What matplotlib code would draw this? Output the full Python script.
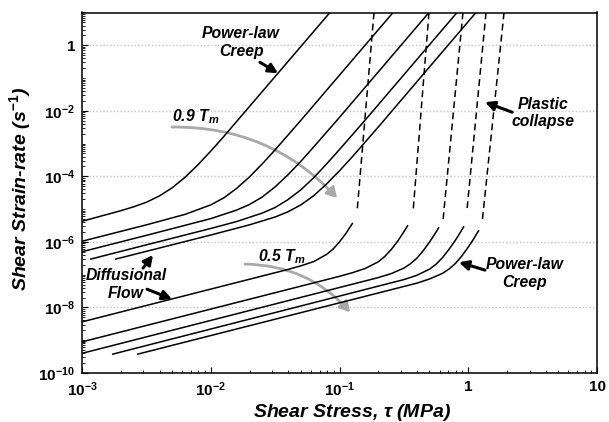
import numpy as np
import matplotlib
matplotlib.use("Agg")
from matplotlib import pyplot as plt
from matplotlib.patches import FancyArrowPatch
from matplotlib.ticker import FixedLocator, FixedFormatter, LogLocator, NullFormatter

plt.rcParams["font.family"] = ["Liberation Sans", "DejaVu Sans"]
plt.rcParams["mathtext.fontset"] = "custom"
plt.rcParams["mathtext.rm"] = "Liberation Sans:bold"
plt.rcParams["mathtext.it"] = "Liberation Sans:bold:italic"
plt.rcParams["mathtext.bf"] = "Liberation Sans:bold"

# digitised curves, log10 of shear stress (MPa) and log10 of strain-rate (1/s)
# 0.9 Tm family (diffusional flow -> power-law creep)
hot_log_tau = [
    [-3.0, -2.7, -2.6, -2.5, -2.4, -2.3, -2.2, -2.1, -2.0, -1.9, -1.8, -1.074],
    [-3.0, -2.5, -2.2, -2.0, -1.9, -1.8, -1.7, -1.6, -1.5, -1.4, -1.3, -0.584],
    [-3.0, -2.5, -2.0, -1.8, -1.7, -1.6, -1.5, -1.4, -1.3, -1.2, -1.1, -1.0, -0.305],
    [-2.938, -2.5, -2.0, -1.8, -1.6, -1.5, -1.4, -1.3, -1.2, -1.1, -1.0, -0.9, -0.8, -0.087],
    [-2.744, -2.0, -1.7, -1.5, -1.4, -1.3, -1.2, -1.1, -1.0, -0.9, -0.8, -0.7, 0.06],
]
hot_log_rate = [
    [-5.37, -5.05, -4.93, -4.79, -4.60, -4.35, -4.03, -3.65, -3.23, -2.79, -2.33, 1.0],
    [-5.98, -5.48, -5.16, -4.87, -4.66, -4.37, -4.02, -3.62, -3.19, -2.74, -2.29, 1.0],
    [-6.30, -5.80, -5.29, -5.03, -4.86, -4.63, -4.32, -3.95, -3.54, -3.10, -2.65, -2.20, 1.0],
    [-6.53, -6.09, -5.59, -5.38, -5.12, -4.95, -4.71, -4.41, -4.04, -3.62, -3.18, -2.73, -2.28, 1.0],
    [-6.53, -5.79, -5.48, -5.24, -5.08, -4.87, -4.59, -4.23, -3.83, -3.40, -2.95, -2.50, 1.0],
]

# 0.5 Tm family
cold_log_tau = [
    [-3.0, -1.5, -1.4, -1.3, -1.2, -1.1, -1.05, -1.0, -0.95, -0.897],
    [-3.0, -1.0, -0.9, -0.8, -0.7, -0.65, -0.6, -0.55, -0.5, -0.468],
    [-3.0, -0.7, -0.6, -0.5, -0.45, -0.4, -0.35, -0.3, -0.25, -0.227],
    [-2.767, -0.5, -0.4, -0.3, -0.25, -0.2, -0.15, -0.1, -0.06, -0.033],
    [-2.573, -0.4, -0.3, -0.2, -0.15, -0.1, -0.05, 0.0, 0.04, 0.083],
]
cold_log_rate = [
    [-8.44, -6.94, -6.84, -6.73, -6.60, -6.38, -6.22, -6.00, -5.74, -5.42],
    [-9.05, -7.05, -6.94, -6.81, -6.61, -6.45, -6.24, -5.99, -5.69, -5.49],
    [-9.40, -7.09, -6.97, -6.80, -6.67, -6.50, -6.27, -6.00, -5.70, -5.55],
    [-9.43, -7.15, -7.02, -6.83, -6.68, -6.48, -6.23, -5.95, -5.70, -5.52],
    [-9.43, -7.26, -7.13, -6.96, -6.83, -6.66, -6.43, -6.16, -5.92, -5.64],
]

# plastic collapse (dashed)
collapse_log_tau = [
    [-0.732, -0.864],
    [-0.305, -0.429],
    [-0.041, -0.196],
    [0.138, -0.010],
    [0.278, 0.107],
]
collapse_log_rate = [
    [1.0, -5.09],
    [1.0, -5.09],
    [1.0, -5.34],
    [1.0, -5.03],
    [1.0, -5.43],
]

x_ticks = [1e-3, 1e-2, 1e-1, 1, 10]
x_tick_labels = ["$10^{-3}$", "$10^{-2}$", "$10^{-1}$", "1", "10"]
y_ticks = [1e-10, 1e-8, 1e-6, 1e-4, 1e-2, 1]
y_tick_labels = ["$10^{-10}$", "$10^{-8}$", "$10^{-6}$", "$10^{-4}$", "$10^{-2}$", "1"]


def pow10(v):
    return 10.0 ** np.asarray(v)


fig = plt.figure(figsize=(6.09, 4.22), dpi=100)
ax = fig.add_axes([82 / 609, 1 - 373 / 422, 515 / 609, 360.5 / 422])
ax.set_xscale("log")
ax.set_yscale("log")

for xs, ys in zip(hot_log_tau + cold_log_tau, hot_log_rate + cold_log_rate):
    ax.plot(pow10(xs), pow10(ys), color="black", lw=1.1, solid_capstyle="butt")
for xs, ys in zip(collapse_log_tau, collapse_log_rate):
    ax.plot(pow10(xs), pow10(ys), color="black", lw=1.1, linestyle=(0, (4.5, 2.8)))

ax.set_xlim(1e-3, 10)
ax.set_ylim(1e-10, 10)

ax.xaxis.set_major_locator(FixedLocator(x_ticks))
ax.xaxis.set_major_formatter(FixedFormatter(x_tick_labels))
ax.xaxis.set_minor_locator(LogLocator(base=10, subs=np.arange(2, 10), numticks=20))
ax.xaxis.set_minor_formatter(NullFormatter())
ax.yaxis.set_major_locator(FixedLocator(y_ticks))
ax.yaxis.set_major_formatter(FixedFormatter(y_tick_labels))
ax.yaxis.set_minor_locator(LogLocator(base=10, subs=np.arange(1, 10), numticks=30))
ax.yaxis.set_minor_formatter(NullFormatter())

ax.tick_params(which="major", direction="in", length=4, width=0.8, labelsize=11, pad=5)
ax.tick_params(which="minor", direction="in", length=2.2, width=0.6)
for lab in ax.get_xticklabels() + ax.get_yticklabels():
    lab.set_fontweight("bold")
for sp in ax.spines.values():
    sp.set_linewidth(1.1)

ax.yaxis.grid(True, which="major", linestyle=(0, (1, 1.5)), color="#c4c4c4", lw=1)
ax.set_axisbelow(True)

lab_kw = dict(fontsize=14, fontweight="bold", fontstyle="italic")
ax.set_xlabel(r"Shear Stress, $\tau$ (MPa)", **lab_kw)
ax.set_ylabel(r"Shear Strain-rate (s$^{-1}$)", **lab_kw)
ax.xaxis.set_label_coords(0.524, -0.08)
ax.yaxis.set_label_coords(-0.095, 0.51)

note_kw = dict(fontsize=11.3, fontweight="bold", fontstyle="italic",
               ha="center", va="center", linespacing=1.2)
ax.text(0.0172, 1.2, "Power-law\nCreep", **note_kw)
ax.text(3.8, 8.5e-3, "Plastic\ncollapse", **note_kw)
ax.text(2.2e-3, 5.0e-8, "Diffusional\nFlow", **note_kw)
ax.text(2.75, 1.1e-7, "Power-law\nCreep", **note_kw)
ax.text(5.0e-3, 6.6e-3, r"0.9 T$_m$", fontsize=11.3, fontweight="bold",
        fontstyle="italic", ha="left", va="center")
ax.text(0.0233, 3.5e-7, r"0.5 T$_m$", fontsize=11.3, fontweight="bold",
        fontstyle="italic", ha="left", va="center")

arrow_kw = dict(arrowstyle="-|>,head_length=0.55,head_width=0.28", lw=2.2,
                color="black", shrinkA=0, shrinkB=0)
ax.annotate("", xy=(0.0333, 0.140), xytext=(0.0241, 0.303), arrowprops=arrow_kw)
ax.annotate("", xy=(1.35, 0.0183), xytext=(2.19, 9.1e-3), arrowprops=arrow_kw)
ax.annotate("", xy=(3.56e-3, 3.98e-7), xytext=(2.98e-3, 1.59e-7), arrowprops=arrow_kw)
ax.annotate("", xy=(5.0e-3, 1.8e-8), xytext=(3.2e-3, 3.6e-8), arrowprops=arrow_kw)
ax.annotate("", xy=(0.847, 2.4e-7), xytext=(1.35, 1.38e-7), arrowprops=arrow_kw)

# grey temperature arrows
for start, end in [((5.0e-3, 3.2e-3), (0.0957, 2.2e-5)),
                   ((0.01845, 2.1e-7), (0.1208, 7.2e-9))]:
    arc = FancyArrowPatch(start, end, connectionstyle="arc3,rad=-0.22",
                          arrowstyle="-|>,head_length=6,head_width=3.5",
                          color="#a9a9a9", lw=2.0, shrinkA=0, shrinkB=0)
    ax.add_patch(arc)

fig.savefig("out.png", dpi=100)
